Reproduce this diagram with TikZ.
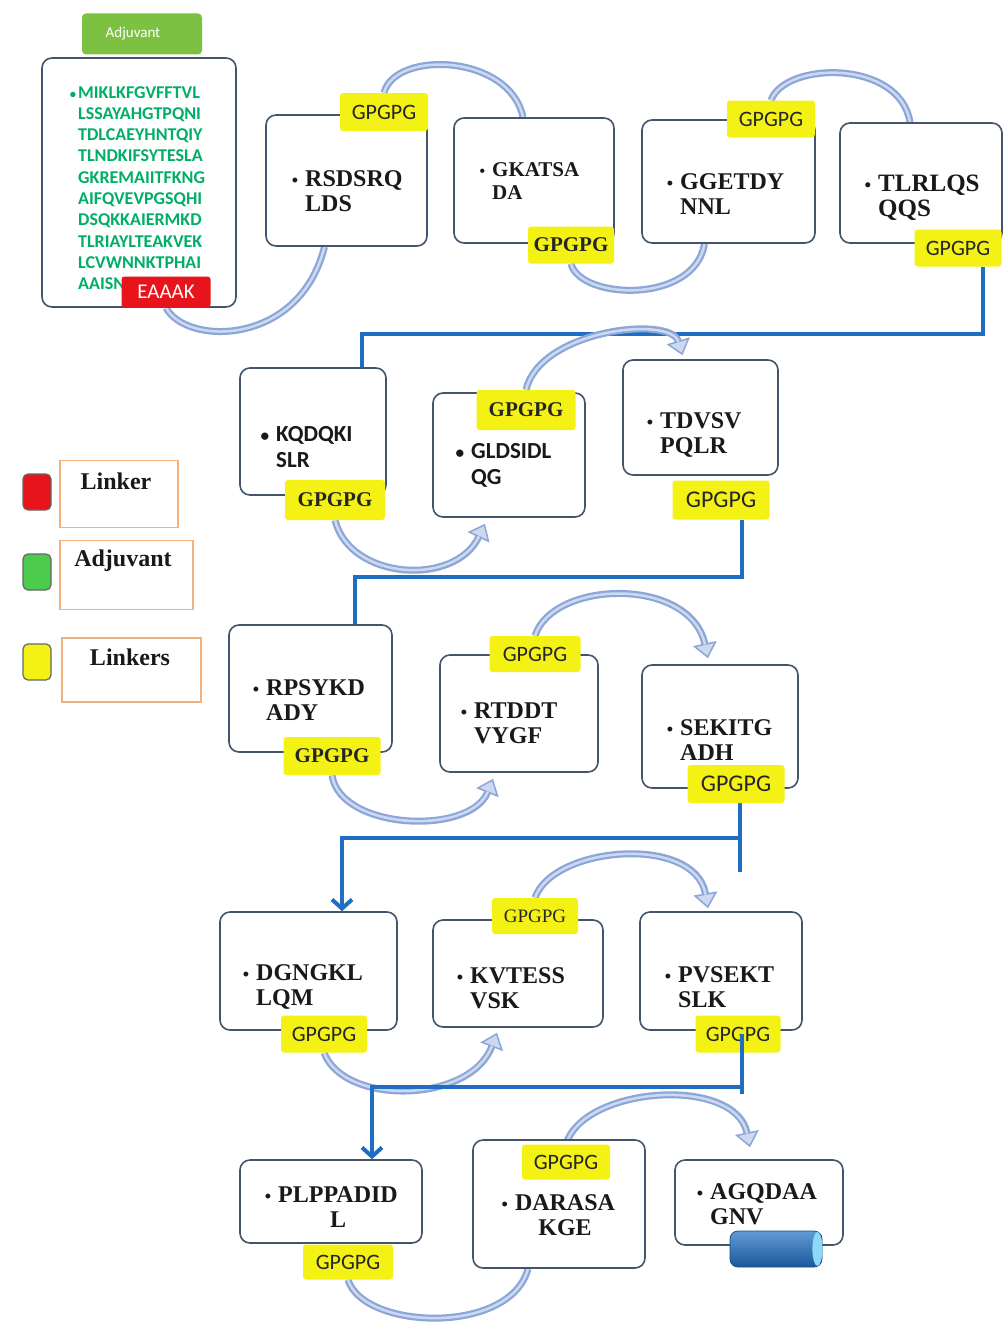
\documentclass[tikz,border=0pt]{standalone}
\usepackage{fontspec}
\setmainfont{Liberation Serif}
\newfontfamily\calfont{Carlito}
\usetikzlibrary{arrows.meta,calc}
\pgfdeclarelayer{bg}
\pgfsetlayers{bg,main}
\definecolor{boxc}{HTML}{44546A}
\definecolor{bandO}{HTML}{8DA6D8}
\definecolor{bandI}{HTML}{CCD9F1}
\definecolor{connc}{HTML}{1F6EC2}
\definecolor{ylw}{HTML}{F4F214}
\definecolor{adjg}{HTML}{00AE68}
\definecolor{lblg}{HTML}{7DC143}
\definecolor{redc}{HTML}{E8141B}
\definecolor{legor}{HTML}{F2B27E}
\definecolor{leggr}{HTML}{4CCB4C}
\newcommand{\mybul}{\llap{\scalebox{0.75}{\textbullet}\hspace{7pt}}}
\newcommand{\mybandA}[1]{\draw[bandout,-{Triangle[length=15pt,width=24pt,fill=bandI,line width=1.5pt]}] #1; \draw[bandin,shorten >=14pt] #1;}
\newcommand{\mybandN}[1]{\draw[bandout] #1; \draw[bandin] #1;}
\begin{document}
\begin{tikzpicture}[x=1pt,y=-1pt,
  pbox/.style={draw=boxc,line width=1.6pt,rounded corners=10pt,fill=white,inner sep=0pt},
  seq/.style={font=\fontsize{24}{25}\selectfont\bfseries,align=left,inner sep=0pt,anchor=west,text=black!90},
  seqc/.style={seq,align=center,anchor=center},
  seqs/.style={font=\calfont\fontsize{23}{26}\selectfont\bfseries,align=left,inner sep=0pt,anchor=west,text=black!90},
  gp/.style={fill=ylw,rounded corners=3pt,inner sep=0pt,font=\calfont\fontsize{22}{22}\selectfont,text=black!85},
  gpb/.style={gp,font=\fontsize{21}{21}\selectfont\bfseries},
  conn/.style={draw=connc,line width=4pt},
  carrow/.style={-{Straight Barb[length=9pt,width=20pt]}},
  bandout/.style={draw=bandO,line width=7pt},
  bandin/.style={draw=bandI,line width=2.5pt},
  legsq/.style={draw=black!60,line width=1.2pt,rounded corners=5pt,minimum width=28pt,minimum height=36pt,inner sep=0pt},
  legbox/.style={draw=legor,line width=1.5pt,inner sep=0pt},
  legtxt/.style={font=\fontsize{24}{24}\selectfont\bfseries,inner sep=0pt,text=black!90}
]
\useasboundingbox (0,0) rectangle (1008,1322);
\clip (0,0) rectangle (1008,1322);
\begin{pgfonlayer}{bg}
\fill[white] (0,0) rectangle (1008,1322);
\end{pgfonlayer}

% ---------- boxes ----------
\node[pbox,minimum width=194pt,minimum height=249pt] (A) at (139,182.5) {};
\node[pbox,minimum width=161pt,minimum height=131pt] (B1) at (346.5,180.5) {};
\node[pbox,minimum width=160pt,minimum height=125pt] (B2) at (534,180.5) {};
\node[pbox,minimum width=173pt,minimum height=123pt] (B3) at (728.5,181.5) {};
\node[pbox,minimum width=162pt,minimum height=120pt] (B4) at (921,183) {};
\node[pbox,minimum width=146pt,minimum height=127pt] (B5) at (313,431.5) {};
\node[pbox,minimum width=152pt,minimum height=124pt] (B6) at (509,455) {};
\node[pbox,minimum width=155pt,minimum height=115pt] (B7) at (700.5,417.5) {};
\node[pbox,minimum width=163pt,minimum height=127pt] (B8) at (310.5,688.5) {};
\node[pbox,minimum width=158pt,minimum height=117pt] (B9) at (519,713.5) {};
\node[pbox,minimum width=156pt,minimum height=123pt] (B10) at (720,726.5) {};
\node[pbox,minimum width=177pt,minimum height=118pt] (B11) at (308.5,971) {};
\node[pbox,minimum width=170pt,minimum height=107pt] (B12) at (518,973.5) {};
\node[pbox,minimum width=162pt,minimum height=118pt] (B13) at (721,971) {};
\node[pbox,minimum width=182pt,minimum height=83pt] (B14) at (331,1201.5) {};
\node[pbox,minimum width=172pt,minimum height=128pt] (B15) at (559,1204) {};
\node[pbox,minimum width=168pt,minimum height=85pt] (B16) at (759,1202.5) {};

% ---------- adjuvant ----------
\node[fill=lblg,rounded corners=4pt,minimum width=120pt,minimum height=41pt,inner sep=0pt,text=white,font=\calfont\fontsize{15}{15}\selectfont] (adjl) at (142,34) {Adjuvant\hspace*{18pt}};
\node[anchor=north west,align=left,inner sep=0pt,text=adjg,font=\calfont\bfseries\fontsize{18}{21.3}\selectfont] (adjt) at (78,86)
 {\llap{\scalebox{0.7}{\textbullet}\hspace{2pt}}MIKLKFGVFFTVL\\LSSAYAHGTPQNI\\TDLCAEYHNTQIY\\TLNDKIFSYTESLA\\GKREMAIITFKNG\\AIFQVEVPGSQHI\\DSQKKAIERMKD\\TLRIAYLTEAKVEK\\LCVWNNKTPHAI\\AAISN};

% ---------- sequence texts ----------
\node[seq] (T1) at (305,191) {\mybul RSDSRQ\\LDS};
\node[seq,font=\fontsize{21}{23}\selectfont\bfseries] (T2) at (492,181) {\mybul GKATSA\\DA};
\node[seq] (T3) at (680,194) {\mybul GGETDY\\NNL};
\node[seq,font=\fontsize{25}{25}\selectfont\bfseries] (T4) at (878,198) {\mybul TLRLQS\\QQS};
\node[seqs] (T5) at (276,447) {\mybul KQDQKI\\SLR};
\node[seqs] (T6) at (471,465) {\mybul GLDSIDL\\QG};
\node[seq] (T7) at (660,435) {\mybul TDVSV\\PQLR};
\node[seq] (T8) at (266,700) {\mybul RPSYKD\\ADY};
\node[seq] (T9) at (474,723) {\mybul RTDDT\\VYGF};
\node[seq] (T10) at (680,740) {\mybul SEKITG\\ADH};
\node[seq] (T11) at (256,987) {\mybul DGNGKL\\LQM};
\node[seq] (T12) at (470,988) {\mybul KVTESS\\VSK};
\node[seq] (T13) at (678,987) {\mybul PVSEKT\\SLK};
\node[seqc] (T14) at (338,1207) {\mybul PLPPADID\\L};
\node[seqc] (T15) at (565,1215) {\mybul DARASA\\KGE};
\node[seq] (T16) at (710,1204) {\mybul AGQDAA\\GNV};

% ---------- linker labels ----------
\node[gp,minimum width=88pt,minimum height=38pt] (L1) at (384,112) {GPGPG};
\node[gpb,minimum width=86pt,minimum height=37pt] (L2) at (571,245) {GPGPG};
\node[gp,minimum width=88pt,minimum height=37pt] (L3) at (771,119) {GPGPG};
\node[gp,minimum width=87pt,minimum height=37pt] (L4) at (958,248) {GPGPG};
\node[gpb,minimum width=100pt,minimum height=40pt] (L5) at (335,500) {GPGPG};
\node[gpb,minimum width=99pt,minimum height=40pt] (L6) at (526,410) {GPGPG};
\node[gp,minimum width=97pt,minimum height=39pt,font=\calfont\fontsize{24}{24}\selectfont] (L7) at (721,500) {GPGPG};
\node[gpb,minimum width=97pt,minimum height=38pt] (L8) at (332,756) {GPGPG};
\node[gp,minimum width=91pt,minimum height=36pt] (L9) at (535,654) {GPGPG};
\node[gp,minimum width=97pt,minimum height=38pt,font=\calfont\fontsize{24}{24}\selectfont] (L10) at (736,784) {GPGPG};
\node[gp,minimum width=86pt,minimum height=37pt] (L11) at (324,1034) {GPGPG};
\node[gp,minimum width=86pt,minimum height=36pt,font=\fontsize{19}{19}\selectfont] (L12) at (535,916) {GPGPG};
\node[gp,minimum width=85pt,minimum height=37pt] (L13) at (738,1034) {GPGPG};
\node[gp,minimum width=90pt,minimum height=35pt] (L14) at (348,1262) {GPGPG};
\node[gp,minimum width=88pt,minimum height=35pt] (L15) at (566,1162) {GPGPG};
\node[fill=redc,rounded corners=3pt,minimum width=89pt,minimum height=31pt,inner sep=0pt,text=white,font=\calfont\fontsize{21}{21}\selectfont] (E) at (166,292) {EAAAK};

% ---------- blue connectors and curved bands (behind) ----------
\coordinate (c1a) at (983,334); \coordinate (c1b) at (362,334);
\coordinate (c2a) at (742,577); \coordinate (c2b) at (355,577);
\coordinate (c3a) at (740,838); \coordinate (c3b) at (342,838); \coordinate (c3e) at (740,872);
\coordinate (c4a) at (742,1087); \coordinate (c4b) at (372,1087); \coordinate (c4e) at (742,1094);
\begin{pgfonlayer}{bg}
\draw[conn] (c1a |- L4.south) -- (c1a) -- (c1b) -- (c1b |- B5.north);
\draw[conn] (c2a |- L7.south) -- (c2a) -- (c2b) -- (c2b |- B8.north);
\draw[conn] (c3a |- L10.south) -- (c3e);
\draw[conn,carrow] (c3a) -- (c3b) -- (c3b |- B11.north);
\mybandN{(E.south) .. controls +(20,38) and +(-25,100) .. ($(B1.south)+(-22,0)$)}
\mybandN{(L1.north) .. controls +(11,-43) and +(-13,-63) .. ($(B2.north)+(-11,0)$)}
\mybandN{(L2.south) .. controls +(9,36) and +(-10,61) .. ($(B3.south)+(-24,0)$)}
\mybandN{(L3.north) .. controls +(14,-39) and +(-10,-63) .. ($(B4.north)+(-11,0)$)}
\mybandA{(L5.south) .. controls +(15,60) and +(-30,63) .. ($(B6.south)+(-24,6)$)}
\mybandA{(L6.north) .. controls +(14,-60) and +(-12,-40) .. ($(B7.north)+(-18,-4)$)}
\mybandA{(L8.south) .. controls +(8,55) and +(-23,57) .. ($(B9.south)+(-26,6)$)}
\mybandA{(L9.north) .. controls +(18,-56) and +(-18,-82) .. ($(B10.north)+(-12,-6)$)}
\mybandA{(L11.south) .. controls +(20,53) and +(-27,71) .. ($(B12.south)+(-21,5)$)}
\mybandA{(L12.north) .. controls +(18,-52) and +(-13,-74) .. ($(B13.north)+(-13,-3)$)}
\mybandN{(L14.south) .. controls +(15,50) and +(-18,67) .. ($(B15.south)+(-31,0)$)}
\mybandA{(L15.north) .. controls +(17,-58) and +(-15,-72) .. ($(B16.north)+(-9,-12)$)}
\end{pgfonlayer}

% ---------- last connector (over label) ----------
\draw[conn] (L13.center -| c4a) -- (c4e);
\draw[conn,carrow] (c4a) -- (c4b) -- (c4b |- B14.north);

% ---------- end cylinder ----------
\node[rounded corners=8pt,minimum width=92pt,minimum height=36pt,inner sep=0pt,top color=connc!70!white,bottom color=connc!80!black,draw=connc!70!black,line width=0.8pt] (cyl) at (776,1249) {};
\fill[cyan!45!white] ($(cyl.east)+(-5,0)$) ellipse [x radius=5, y radius=17];

% ---------- legend ----------
\node[legsq,fill=redc] (lr) at (37,492) {};
\node[legsq,fill=leggr] (lg) at (37,572) {};
\node[legsq,fill=ylw] (ly) at (37,662) {};
\node[legbox,minimum width=118pt,minimum height=67pt] (lb1) at (119,494) {};
\node[legbox,minimum width=133pt,minimum height=69pt] (lb2) at (126.5,575) {};
\node[legbox,minimum width=139pt,minimum height=64pt] (lb3) at (131.5,670) {};
\node[legtxt] (lt1) at (116,481) {Linker};
\node[legtxt] (lt2) at (123,561) {Adjuvant};
\node[legtxt] (lt3) at (130,657) {Linkers};
\end{tikzpicture}
\end{document}
